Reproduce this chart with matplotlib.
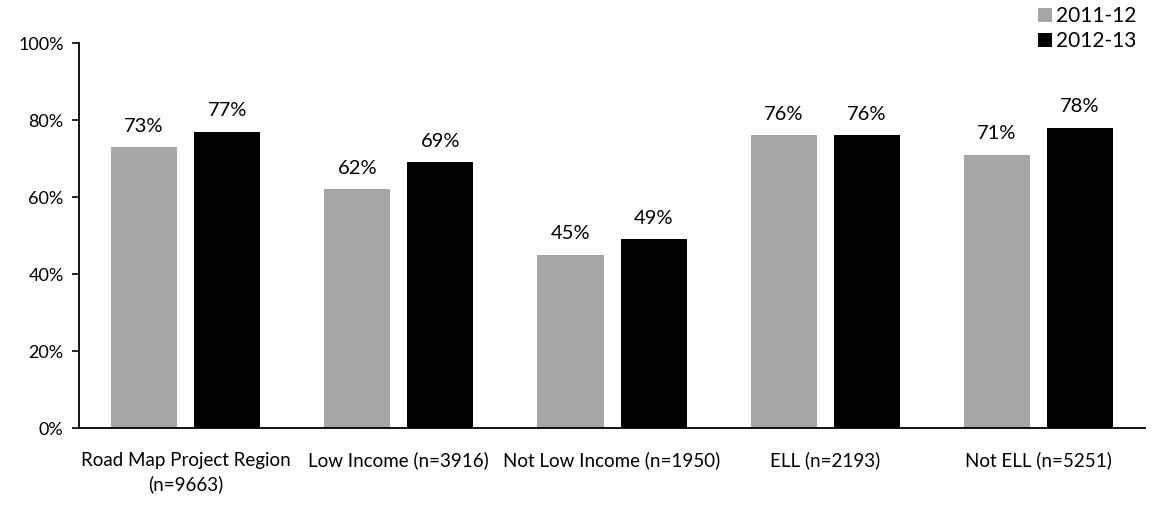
import numpy as np
import matplotlib
matplotlib.use('Agg')
import matplotlib.pyplot as plt

categories = ['Road Map Project Region\n(n=9663)', 'Low Income (n=3916)',
              'Not Low Income (n=1950)', 'ELL (n=2193)', 'Not ELL (n=5251)']
vals_2011 = [73, 62, 45, 76, 71]
vals_2012 = [77, 69, 49, 76, 78]
series = ['2011-12', '2012-13']

plt.rcParams['font.family'] = ['Lato', 'DejaVu Sans']

fig = plt.figure(figsize=(11.55, 5.12), dpi=100)
ax = fig.add_axes([0.0684, 0.164, 0.923, 0.752])

x = np.arange(len(categories))
w = 0.31
b1 = ax.bar(x - 0.195, vals_2011, w, color='#a6a6a6', label=series[0])
b2 = ax.bar(x + 0.195, vals_2012, w, color='#000000', label=series[1])

for bars, vals in [(b1, vals_2011), (b2, vals_2012)]:
    for r, v in zip(bars, vals):
        ax.text(r.get_x() + r.get_width() / 2, v + 3.2, f'{v}%',
                ha='center', va='bottom', fontsize=14.5)

ax.set_xlim(-0.5, len(categories) - 0.5)
ax.set_ylim(0, 100)
ax.set_yticks(range(0, 101, 20))
ax.set_yticklabels([f'{t}%' for t in range(0, 101, 20)], fontsize=13)
ax.set_xticks(x)
ax.set_xticklabels(categories, fontsize=13.5, linespacing=1.45)
ax.tick_params(axis='x', length=0, pad=17)
ax.tick_params(axis='y', length=5, width=1.2, pad=6)
for s in ['top', 'right']:
    ax.spines[s].set_visible(False)
ax.spines['left'].set_linewidth(1.3)
ax.spines['bottom'].set_linewidth(1.3)

fig.legend(handles=[b1, b2], loc='upper right', bbox_to_anchor=(1.0, 1.025),
           frameon=False, fontsize=15, handlelength=0.65, handleheight=0.65,
           handletextpad=0.2, labelspacing=0.25)

fig.savefig('out.png', dpi=100)
